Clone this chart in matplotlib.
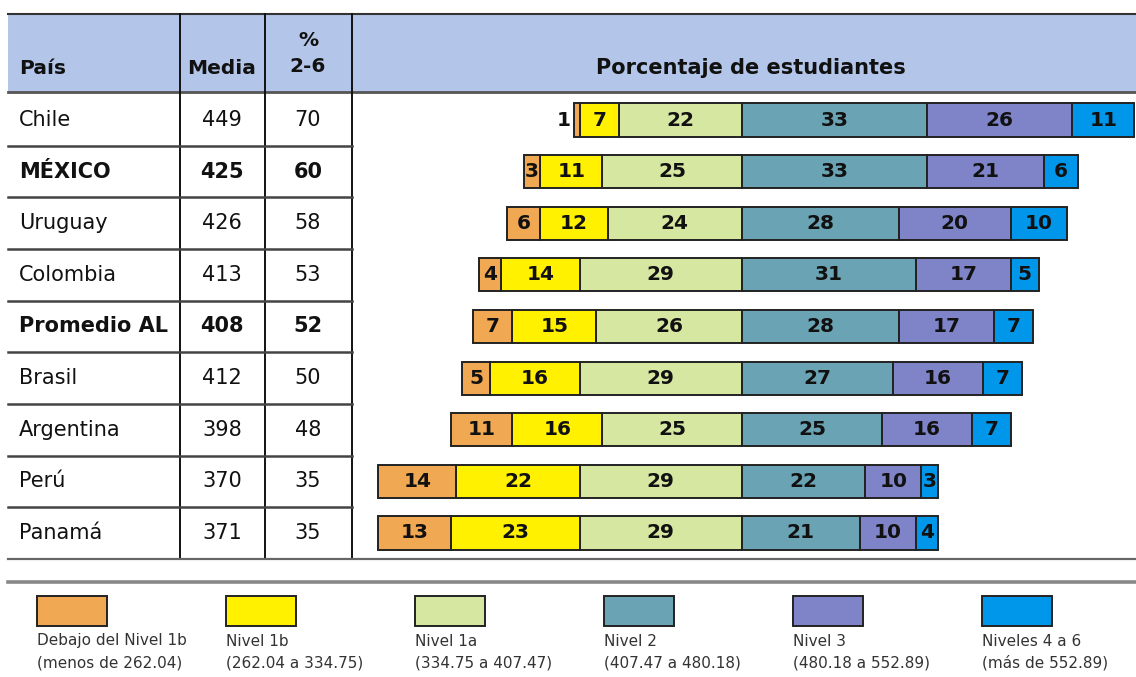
import numpy as np
import matplotlib.pyplot as plt
from matplotlib.patches import Rectangle
from matplotlib.transforms import blended_transform_factory

# datos
paises = ["Chile", "MÉXICO", "Uruguay", "Colombia", "Promedio AL",
          "Brasil", "Argentina", "Perú", "Panamá"]
destacados = ["MÉXICO", "Promedio AL"]
media = [449, 425, 426, 413, 408, 412, 398, 370, 371]
pct_2_6 = [70, 60, 58, 53, 52, 50, 48, 35, 35]

debajo_1b = [1, 3, 6, 4, 7, 5, 11, 14, 13]
nivel_1b = [7, 11, 12, 14, 15, 16, 16, 22, 23]
nivel_1a = [22, 25, 24, 29, 26, 29, 25, 29, 29]
nivel_2 = [33, 33, 28, 31, 28, 27, 25, 22, 21]
nivel_3 = [26, 21, 20, 17, 17, 16, 16, 10, 10]
nivel_4_6 = [11, 6, 10, 5, 7, 7, 7, 3, 4]

niveles = ["Debajo del Nivel 1b", "Nivel 1b", "Nivel 1a",
           "Nivel 2", "Nivel 3", "Niveles 4 a 6"]
rangos = ["(menos de 262.04)", "(262.04 a 334.75)", "(334.75 a 407.47)",
          "(407.47 a 480.18)", "(480.18 a 552.89)", "(más de 552.89)"]
colores = ["#f0a852", "#fff100", "#d6e7a1", "#6aa3b3", "#7f84c9", "#0097ea"]

W, H = 1136, 677
fig = plt.figure(figsize=(W / 100, H / 100), dpi=100)

# capa de fondo en pixeles (tabla, encabezado, leyenda)
bg = fig.add_axes([0, 0, 1, 1])
bg.set_xlim(0, W)
bg.set_ylim(H, 0)
bg.axis("off")

# ejes de las barras
top, bottom = 94.2, 558.8
ax = fig.add_axes([352 / W, 1 - bottom / H, 784 / W, (bottom - top) / H])
ax.set_xlim(-(742 - 352) / 5.6, (1136 - 742) / 5.6)
ax.set_ylim(len(paises) - 0.5, -0.5)
ax.axis("off")

y = np.arange(len(paises))
izq = [np.array(nivel_1a), np.array(nivel_1b), np.array(debajo_1b)]
der = [np.array(nivel_2), np.array(nivel_3), np.array(nivel_4_6)]
izq_col = [colores[2], colores[1], colores[0]]
der_col = [colores[3], colores[4], colores[5]]

def etiquetas(bars, vals, afuera=False):
    for b, v in zip(bars, vals):
        cx = b.get_x() + b.get_width() / 2
        cy = b.get_y() + b.get_height() / 2
        if v < 2 and afuera:
            ax.text(b.get_x() - 1.6, cy, str(v), ha="right", va="center",
                    fontsize=14.5, fontweight="bold", color="#111")
        else:
            ax.text(cx, cy, str(v), ha="center", va="center",
                    fontsize=14.5, fontweight="bold", color="#111")

acum = np.zeros(len(paises))
for k, (vals, c) in enumerate(zip(izq, izq_col)):
    bars = ax.barh(y, -vals, left=-acum, height=0.64, color=c,
                   edgecolor="#222", linewidth=1.4)
    etiquetas(bars, vals, afuera=(k == 2))
    acum = acum + vals

acum = np.zeros(len(paises))
for vals, c in zip(der, der_col):
    bars = ax.barh(y, vals, left=acum, height=0.64, color=c,
                   edgecolor="#222", linewidth=1.4)
    etiquetas(bars, vals)
    acum = acum + vals

# encabezado
bg.add_patch(Rectangle((8, 14), W - 8, 78, facecolor="#b3c5e8", edgecolor="none"))
bg.plot([8, W], [14, 14], color="#333", lw=1.5)
bg.plot([8, W], [92, 92], color="#555", lw=2)
hdr = dict(fontsize=14.5, fontweight="bold", color="#111", va="center")
bg.text(19, 68, "País", ha="left", **hdr)
bg.text(222, 68, "Media", ha="center", **hdr)
bg.text(308, 41, "%", ha="center", **hdr)
bg.text(308, 67, "2-6", ha="center", **hdr)
bg.text(751, 68, "Porcentaje de estudiantes", ha="center",
        **{**hdr, "fontsize": 15})

# tabla
for xv in [180, 265, 352]:
    bg.plot([xv, xv], [14, 559], color="#111", lw=1.4)

tr = blended_transform_factory(bg.transData, ax.transData)
for i in range(len(paises) - 1):
    bg.plot([8, 352], [i + 0.5, i + 0.5], color="#444", lw=1.8, transform=tr)

for i, p in enumerate(paises):
    fw = "bold" if p in destacados else "normal"
    bg.text(19, i, p, ha="left", va="center", fontsize=15, fontweight=fw,
            color="#111", transform=tr)
    bg.text(222, i, str(media[i]), ha="center", va="center", fontsize=15,
            fontweight=fw, color="#111", transform=tr)
    bg.text(308, i, str(pct_2_6[i]), ha="center", va="center", fontsize=15,
            fontweight=fw, color="#111", transform=tr)

bg.plot([8, W], [559, 559], color="#666", lw=1.6)
bg.plot([8, W], [582, 582], color="#888", lw=2.6)

# leyenda
for k in range(len(niveles)):
    x0 = 37 + 189 * k
    bg.add_patch(Rectangle((x0, 596), 70, 30, facecolor=colores[k],
                           edgecolor="#222", lw=1.4))
    bg.text(x0, 641, niveles[k], ha="left", va="center", fontsize=11, color="#333")
    bg.text(x0, 663, rangos[k], ha="left", va="center", fontsize=11, color="#333")

fig.savefig("out.png", dpi=100, facecolor="white")
